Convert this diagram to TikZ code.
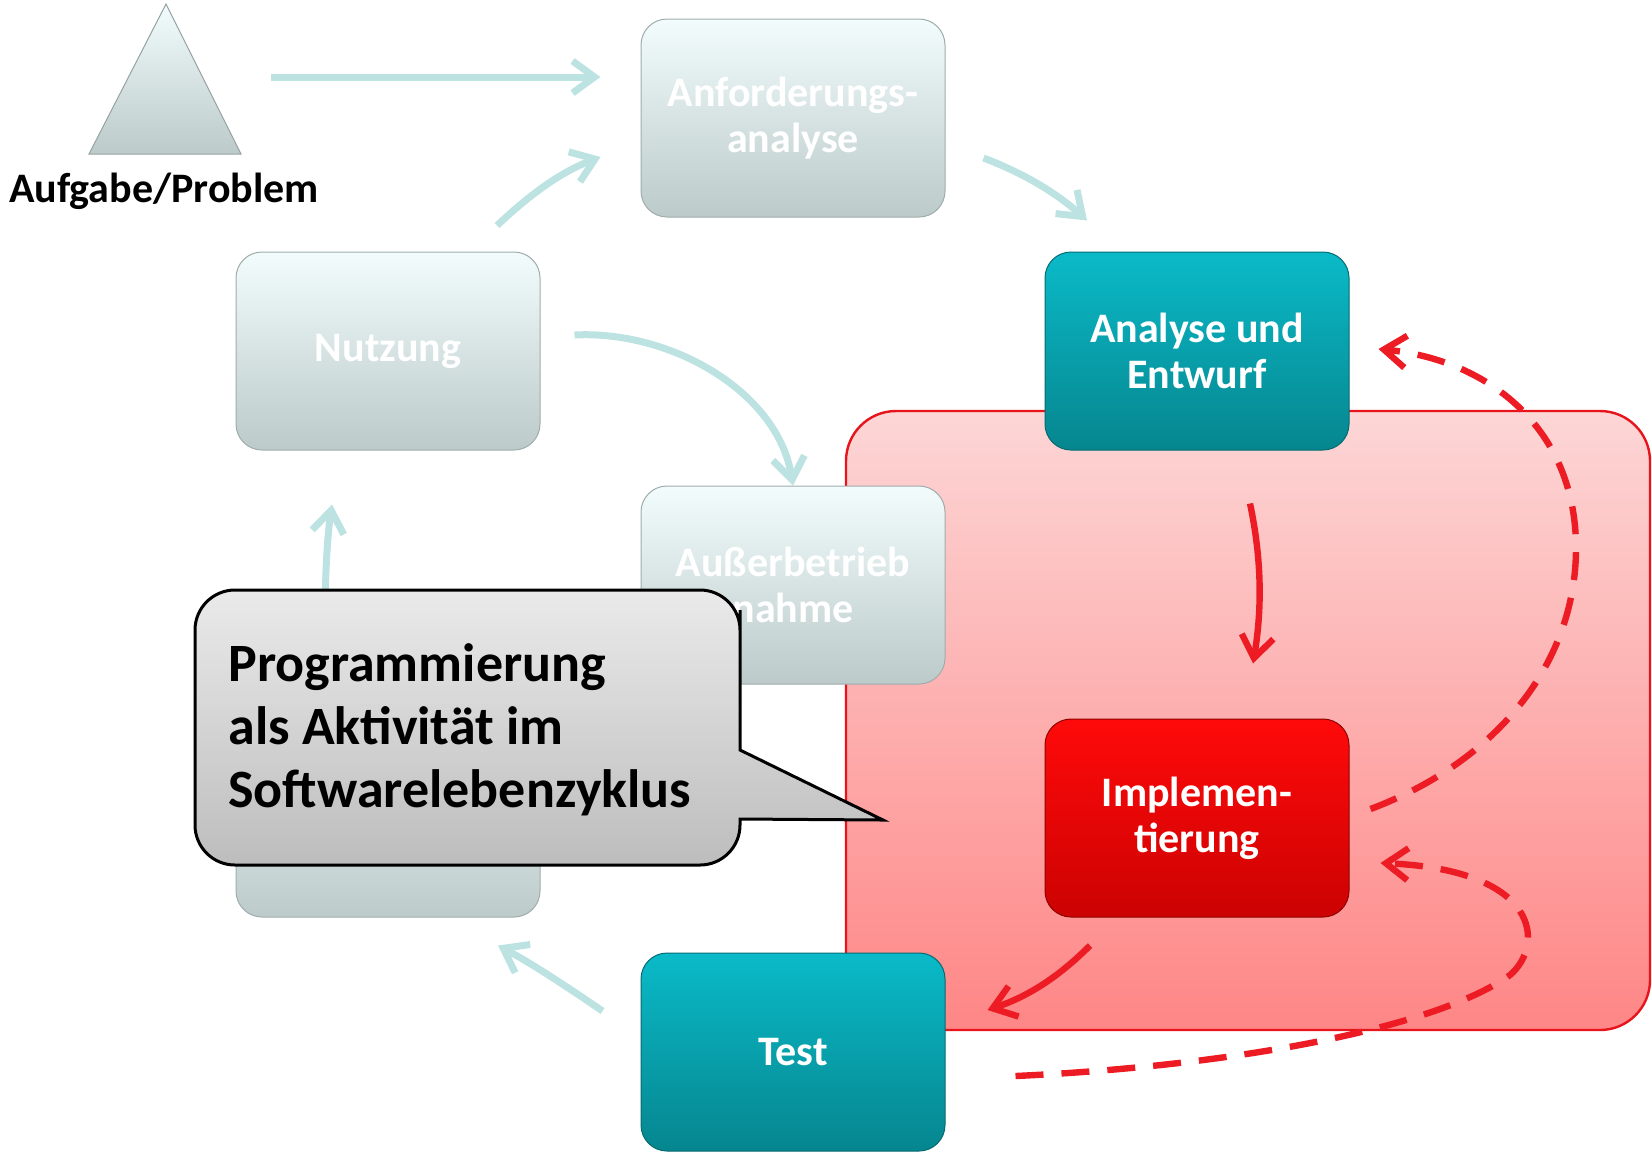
\documentclass[tikz,border=0pt]{standalone}
\usepackage{fontspec}
\setmainfont{Carlito}
\usepackage{xcolor}
\usepackage{tikz}
\usetikzlibrary{arrows.meta}
\definecolor{PaleTop}{HTML}{F2FCFC}
\definecolor{PaleBottom}{HTML}{BCCACA}
\definecolor{TealTop}{HTML}{0ABAC8}
\definecolor{TealBottom}{HTML}{06868F}
\definecolor{HotTop}{HTML}{FF0A0A}
\definecolor{HotBottom}{HTML}{CC0202}
\definecolor{ZoneTop}{HTML}{FDD6D6}
\definecolor{ZoneBottom}{HTML}{FE8686}
\definecolor{ZoneLine}{HTML}{E8141C}
\definecolor{FlowCyan}{HTML}{BDE2E2}
\definecolor{LoopRed}{HTML}{ED1C24}
\definecolor{NoteTop}{HTML}{EAEAEA}
\definecolor{NoteBottom}{HTML}{BDBDBD}

\tikzset{
  phase/.style={rounded corners=13pt, minimum width=152pt, minimum height=99pt, inner sep=0pt,
    align=center, text=white, font=\bfseries\fontsize{21}{23}\selectfont},
  palebox/.style={phase, top color=PaleTop, bottom color=PaleBottom, draw=PaleBottom!85!black, line width=0.5pt},
  tealbox/.style={phase, top color=TealTop, bottom color=TealBottom, draw=TealBottom!80!black, line width=0.5pt},
  hotbox/.style={phase, top color=HotTop, bottom color=HotBottom, draw=HotBottom!70!black, line width=0.5pt},
  cyanarrow/.style={draw=FlowCyan, line width=3.5pt, -{Straight Barb[length=11pt,width=16pt]}},
  redarrow/.style={draw=LoopRed, line width=3.2pt, -{Straight Barb[length=11pt,width=16pt]}},
  redback/.style={redarrow, dash pattern=on 14pt off 9pt},
}

\begin{document}
\begin{tikzpicture}[x=0.5pt,y=-0.5pt]
				\useasboundingbox (0,0) rectangle (1652,1153);

				% task
				\path[draw=PaleBottom!80!black, line width=0.5pt, top color=PaleTop, bottom color=PaleBottom] (166,4) -- (241,154) -- (89,154) -- cycle;
				\node[anchor=base, font=\bfseries\fontsize{21}{23}\selectfont] (task) at (164,202) {Aufgabe/Problem};
				\coordinate (taskout) at (271,77);

				% programming zone
				\path[draw=ZoneLine, line width=1.2pt, top color=ZoneTop, bottom color=ZoneBottom, rounded corners=25pt] (846,411) rectangle (1650,1030);

				% phases
				\foreach \name/\sty/\x/\y/\txt in {
					anf/palebox/793/118/{Anforderungs-\\analyse},
					nutz/palebox/388/351/{Nutzung},
					ausser/palebox/793/585/{Außerbetrieb\\nahme},
					wart/palebox/388/818/{},
					ana/tealbox/1197/351/{Analyse und\\Entwurf},
					impl/hotbox/1197/818/{Implemen-\\tierung},
					test/tealbox/793/1052/{Test}%
				}{
					\node[\sty] (\name) at (\x,\y) {\txt};
				}

				% life cycle
				\draw[cyanarrow] (taskout) -- ([shift={(-40,-41)}]anf.west);
				\draw[cyanarrow] ([shift={(109,-26)}]nutz.north) .. controls +(33,-31) and +(-40,15) .. ([shift={(-40,39)}]anf.west);
				\draw[cyanarrow] ([shift={(38,40)}]anf.east) .. controls +(37,14) and +(-32,-29) .. ([shift={(-110,-31)}]ana.north);
				\draw[cyanarrow] ([shift={(34,-16)}]nutz.east) .. controls +(96,-5) and +(-15,-94) .. (ausser.north);
				\draw[cyanarrow] ([shift={(-63,-40)}]wart.north) .. controls +(-1,-79) and +(-6,41) .. ([shift={(-56,54)}]nutz.south);
				\draw[cyanarrow] ([shift={(-38,-41)}]test.west) .. controls +(-38,-26) and +(32,17) .. ([shift={(110,28)}]wart.south);

				% programming steps
				\draw[redarrow] ([shift={(53,53)}]ana.south) .. controls +(12,57) and +(9,-54) .. ([shift={(56,-55)}]impl.north);
				\draw[redarrow] ([shift={(-107,28)}]impl.south) .. controls +(-30,30) and +(42,-14) .. ([shift={(42,-42)}]test.east);
				\draw[redback] ([shift={(21,-9)}]impl.east) .. controls +(130,-49) and +(0,112) .. (1576,548)
					.. controls +(0,-118) and +(112,11) .. ([shift={(29,-2)}]ana.east);
				\draw[redback] ([shift={(70,24)}]test.east) .. controls +(235,-11) and +(-70,50) .. (1510,975)
					.. controls +(35,-30) and +(160,7) .. ([shift={(31,45)}]impl.east);

				% callout
				\path[draw=black, line width=1.5pt, top color=NoteTop, bottom color=NoteBottom]
					(195,720) [rounded corners=20pt] -- (195,590) -- (740,590) -- (740,650) [sharp corners] -- (740,750)
					-- (883,820) -- (740,819) -- (740,824) [rounded corners=20pt] -- (740,865) -- (195,865) -- cycle;
				\foreach \line [count=\i] in {Programmierung, als Aktivität im, Softwarelebenzyklus} {
					\node[anchor=base west, inner sep=0pt, font=\bfseries\fontsize{27}{32}\selectfont] (note\i) at (228,618+63*\i) {\line};
				}
\end{tikzpicture}
\end{document}
